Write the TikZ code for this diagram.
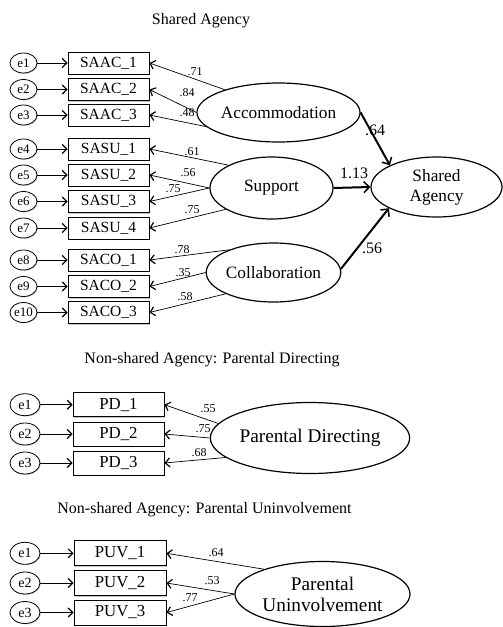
\documentclass[tikz,border=0pt]{standalone}
\usepackage{fontspec}
\setmainfont{Liberation Serif}
\usetikzlibrary{shapes.geometric,arrows.meta,shadows}
\begin{document}
\begin{tikzpicture}[x=1pt,y=-1pt,
 obs/.style={draw, fill=white, line width=0.9pt, minimum width=81pt, minimum height=22pt, inner sep=0pt, font=\fontsize{15.5}{16}\selectfont,
   drop shadow={shadow xshift=1pt, shadow yshift=-1pt, fill=gray!45, opacity=1}},
 obsb/.style={obs, minimum width=91pt, minimum height=24pt, font=\fontsize{16.8}{18}\selectfont},
 err/.style={ellipse, draw, fill=white, line width=0.8pt, minimum width=27pt, minimum height=20pt, inner sep=0pt, font=\fontsize{13}{14}\selectfont,
   drop shadow={shadow xshift=0.8pt, shadow yshift=-0.8pt, fill=gray!40, opacity=1}},
 errb/.style={err, minimum width=30pt, minimum height=22pt, font=\fontsize{14}{15}\selectfont},
 lat/.style={ellipse, draw, line width=1.2pt, inner sep=0pt, align=center, font=\fontsize{17.3}{20}\selectfont},
 latb/.style={lat, font=\fontsize{19.3}{21}\selectfont},
 ld/.style={-{Straight Barb[length=4.5pt,width=9pt,line width=1.2pt]}, line width=0.7pt},
 st/.style={-{Straight Barb[length=5.5pt,width=11pt,line width=1.5pt]}, line width=2pt},
 lbl/.style={font=\fontsize{12}{13}\selectfont, inner sep=0pt},
 slbl/.style={font=\fontsize{16}{17}\selectfont, inner sep=0pt},
 ttl/.style={font=\fontsize{16}{17}\selectfont, inner sep=0pt}]
\useasboundingbox (0,0) rectangle (503,627);

% ---------- Section 1 ----------
\node[ttl] (t1) at (201,21) {Shared Agency};
\foreach \i/\y/\t in {1/63/SAAC\_1, 2/89.5/SAAC\_2, 3/115/SAAC\_3,
  4/149/SASU\_1, 5/175/SASU\_2, 6/201.5/SASU\_3, 7/228/SASU\_4,
  8/260/SACO\_1, 9/286.5/SACO\_2, 10/312.5/SACO\_3}{
  \node[obs] (b\i) at (108.5,\y) {\t};
  \node[err] (e\i) at (23.5,\y) {e\i};
  \draw[ld] (e\i.east) -- (b\i.west);
}
\node[lat, minimum width=133pt, minimum height=59pt] (acc) at (278.5,112.5) {Accommodation};
\node[lat, minimum width=123pt, minimum height=62pt] (sup) at (271.5,188) {Support};
\node[lat, minimum width=123pt, minimum height=59pt] (col) at (273.5,272.5) {Collaboration};
\node[lat, minimum width=131pt, minimum height=60pt] (sa) at (436.5,187) {Shared\\Agency};

\draw[ld] (acc.157) -- (b1.east);
\draw[ld] (acc.180) -- (b2.east);
\draw[ld] (acc.191) -- (b3.east);
\draw[ld] (sup.152) -- (b4.east);
\draw[ld] (sup.180) -- (b5.east);
\draw[ld] (sup.180) -- (b6.east);
\draw[ld] (sup.205) -- (b7.east);
\draw[ld] (col.153) -- (b8.east);
\draw[ld] (col.180) -- (b9.east);
\draw[ld] (col.204) -- (b10.east);
\node[lbl] (l1) at (195,72) {.71};
\node[lbl] (l2) at (187,93) {.84};
\node[lbl] (l3) at (187,113) {.48};
\node[lbl] (l4) at (192,152) {.61};
\node[lbl] (l5) at (188,173) {.56};
\node[lbl] (l6) at (173,189) {.75};
\node[lbl] (l7) at (192,210) {.75};
\node[lbl] (l8) at (182,250) {.78};
\node[lbl] (l9) at (183,273) {.35};
\node[lbl] (l10) at (185,297) {.58};

\draw[st] (acc.east) -- (sa.155);
\draw[st] (sup.east) -- (sa.west);
\draw[st] (col.3) -- (sa.204);
\node[slbl] (s1) at (375,130) {.64};
\node[slbl] (s2) at (354,173) {1.13};
\node[slbl] (s3) at (372,248) {.56};

% ---------- Section 2 ----------
\node[ttl] (t2) at (212,360) {Non-shared Agency: Parental Directing};
\foreach \i/\y in {1/404.7, 2/434, 3/463}{
  \node[obsb] (p\i) at (118.5,\y) {PD\_\i};
  \node[errb] (f\i) at (25,\y) {e\i};
  \draw[ld] (f\i.east) -- (p\i.west);
}
\node[latb, minimum width=174pt, minimum height=71pt] (pd) at (310,438) {Parental Directing};
\draw[ld] (pd.171) -- (p1.east);
\draw[ld] (pd.180) -- (p2.east);
\draw[ld] (pd.193) -- (p3.east);
\node[lbl] (m1) at (208,409) {.55};
\node[lbl] (m2) at (203,429) {.75};
\node[lbl] (m3) at (199,452.7) {.68};

% ---------- Section 3 ----------
\node[ttl] (t3) at (204.5,510) {Non-shared Agency: Parental Uninvolvement};
\foreach \i/\y in {1/553.3, 2/583, 3/612.5}{
  \node[obsb, minimum width=92pt, minimum height=25pt] (q\i) at (120,\y) {PUV\_\i};
  \node[errb] (g\i) at (25,\y) {e\i};
  \draw[ld] (g\i.east) -- (q\i.west);
}
\node[latb, minimum width=175pt, minimum height=65pt] (pu) at (322.5,594) {Parental\\Uninvolvement};
\draw[ld] (pu.157) -- (q1.east);
\draw[ld] (pu.180) -- (q2.east);
\draw[ld] (pu.180) -- (q3.east);
\node[lbl] (n1) at (216,552.7) {.64};
\node[lbl] (n2) at (212,581) {.53};
\node[lbl] (n3) at (190,598) {.77};
\end{tikzpicture}
\end{document}
